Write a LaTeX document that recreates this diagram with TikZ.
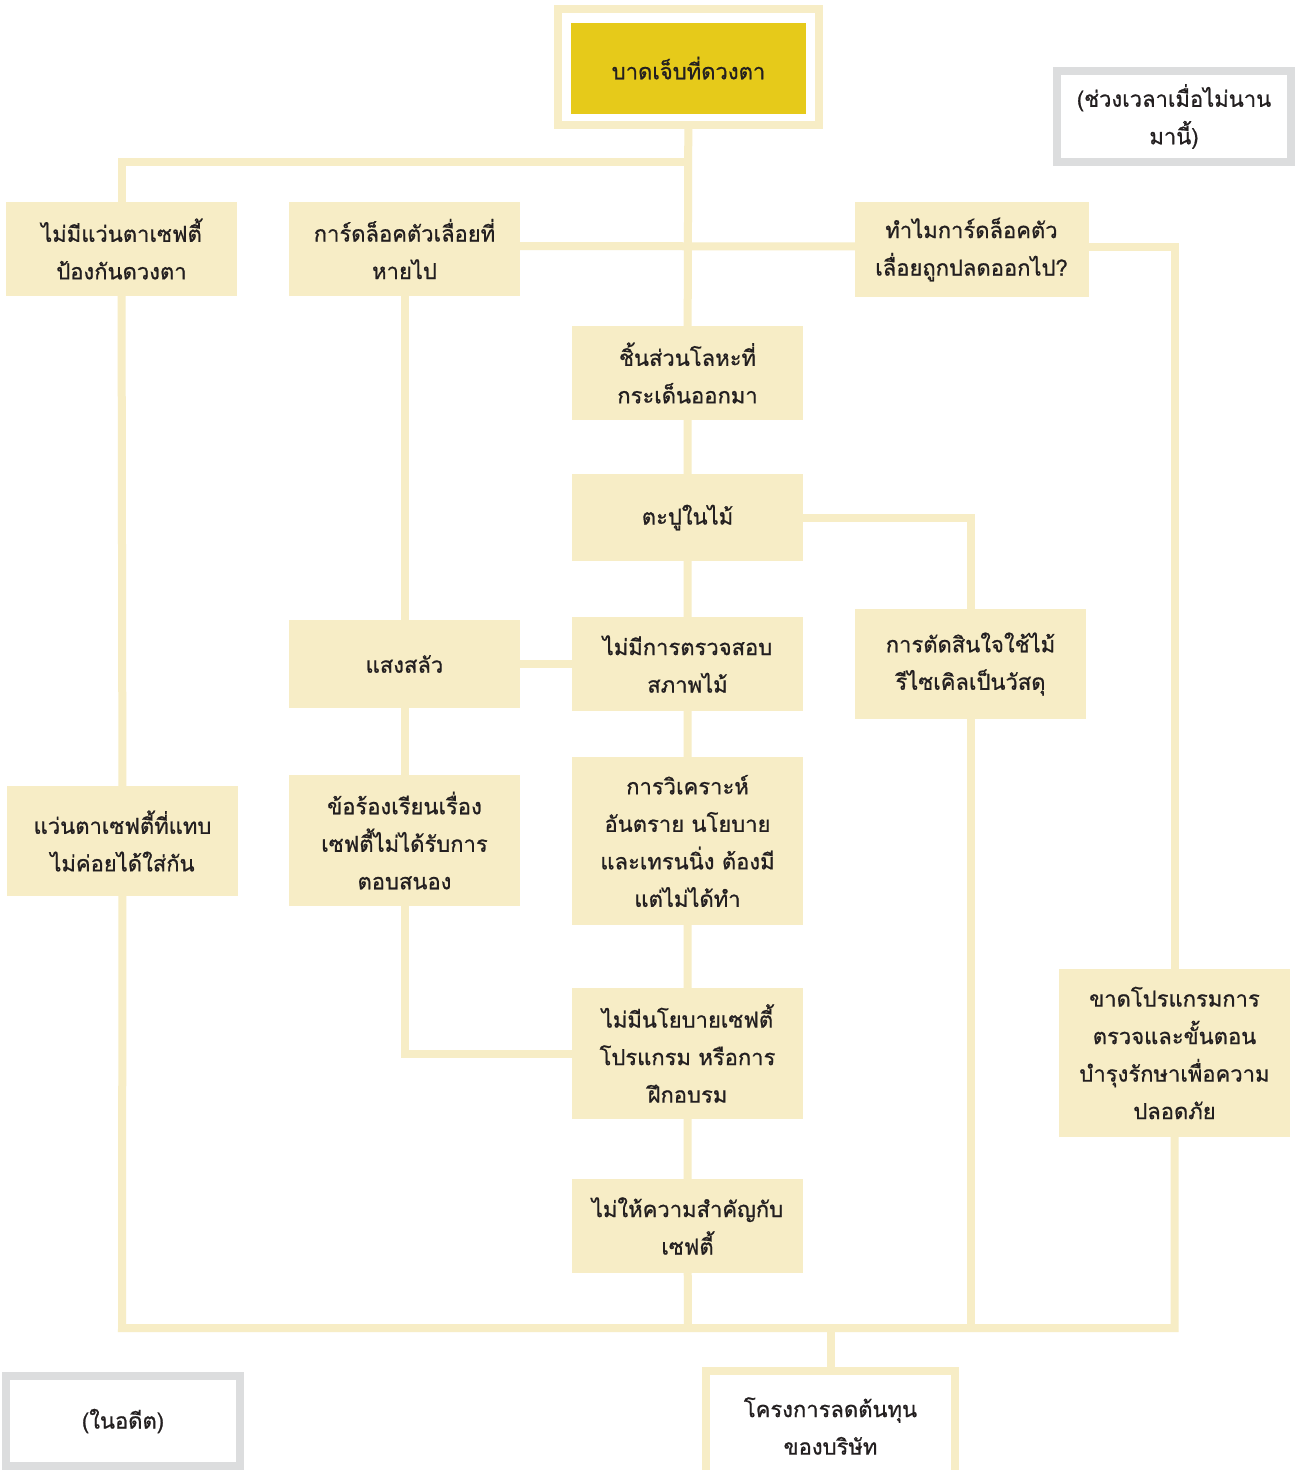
\documentclass[tikz,border=0pt]{standalone}
\usepackage{fontspec}
\newfontfamily\thaifont[Script=Thai,FakeBold=0.8]{Loma}
\usetikzlibrary{backgrounds}
\definecolor{cream}{HTML}{F7EDC6}
\definecolor{gold}{HTML}{E6CA1A}
\definecolor{frgray}{HTML}{DCDDDE}
\definecolor{ink}{HTML}{231F20}
\tikzset{
  txt/.style={font=\thaifont\fontsize{22}{37.5}\selectfont, text=ink, align=center},
  box/.style={txt, fill=cream, inner sep=0pt, minimum width=231pt},
  goldbox/.style={txt, fill=gold, inner sep=0pt, minimum width=235pt, minimum height=91pt},
  frame/.style={txt, draw=cream, line width=8pt, fill=white, inner sep=0pt},
  legend/.style={txt, draw=frgray, line width=8pt, fill=white, inner sep=0pt, minimum width=234pt},
  conn/.style={draw=cream, line width=8pt},
}
\begin{document}
\begin{tikzpicture}[x=1pt, y=-1pt]
\clip (0,0) rectangle (1295,1470);

% top
\node[frame, minimum width=261pt, minimum height=116pt] (topframe) at (688.5,67) {};
\node[goldbox] (top) at (688.5,68) {บาดเจ็บที่ดวงตา};

% legends
\node[legend, minimum height=91pt] (recent) at (1174,116.5) {(ช่วงเวลาเมื่อไม่นาน\\มานี้)};
\node[legend, minimum height=90pt] (past) at (123,1421) {(ในอดีต)};

% boxes
\node[box, minimum height=94pt] (A) at (121.5,249) {ไม่มีแว่นตาเซฟตี้\\ป้องกันดวงตา};
\node[box, minimum height=94pt] (B) at (404.5,249) {การ์ดล็อคตัวเลื่อยที่\\หายไป};
\node[box, minimum height=95pt, minimum width=234pt] (C) at (971.5,249.5) {ทำไมการ์ดล็อคตัว\\เลื่อยถูกปลดออกไป?};
\node[box, minimum height=94pt] (D) at (687.5,373) {ชิ้นส่วนโลหะที่\\กระเด็นออกมา};
\node[box, minimum height=87pt] (E) at (687.5,517.5) {ตะปูในไม้};
\node[box, minimum height=110pt] (F) at (970.5,664) {การตัดสินใจใช้ไม้\\รีไซเคิลเป็นวัสดุ};
\node[box, minimum height=88pt] (H) at (404.5,664) {แสงสลัว};
\node[box, minimum height=94pt] (I) at (687.5,664) {ไม่มีการตรวจสอบ\\สภาพไม้};
\node[box, minimum height=110pt] (G) at (122.5,841) {แว่นตาเซฟตี้ที่แทบ\\ไม่ค่อยได้ใส่กัน};
\node[box, minimum height=131pt] (J) at (404.5,840.5) {ข้อร้องเรียนเรื่อง\\เซฟตี้ไม่ได้รับการ\\ตอบสนอง};
\node[box, minimum height=168pt] (K) at (687.5,841) {การวิเคราะห์\\อันตราย นโยบาย\\และเทรนนิ่ง ต้องมี\\แต่ไม่ได้ทำ};
\node[box, minimum height=131pt] (L) at (687.5,1053.5) {ไม่มีนโยบายเซฟตี้\\โปรแกรม หรือการ\\ฝึกอบรม};
\node[box, minimum height=94pt] (M) at (687.5,1226) {ไม่ให้ความสำคัญกับ\\เซฟตี้};
\node[box, minimum height=168pt] (N) at (1174.5,1053) {ขาดโปรแกรมการ\\ตรวจและขั้นตอน\\บำรุงรักษาเพื่อความ\\ปลอดภัย};

% bottom result
\node[frame, minimum width=249pt, minimum height=110pt] (cost) at (830.5,1426) {โครงการลดต้นทุน\\ของบริษัท};

% junction coordinates
\coordinate (j1) at (688,162);
\coordinate (bl) at (122,1328);
\coordinate (bm) at (688,1328);
\coordinate (bf) at (970.5,1328);
\coordinate (bc) at (830.5,1328);
\coordinate (br) at (1174.5,1328);

\begin{pgfonlayer}{background}
\fill[white] (0,0) rectangle (1295,1470);
\draw[conn] (topframe) -- (D);
\draw[conn] (A) |- (j1);
\draw[conn] (A) -- (G) -- (bl) -- (br) -- (N);
\draw[conn] ([yshift=3pt]B.center) -- ([yshift=3pt]C.center);
\draw[conn] ([yshift=3pt]C.center) -| (N);
\draw[conn] (B) -- (H) -- (J);
\draw[conn] (J) |- (L);
\draw[conn] (H) -- (I);
\draw[conn] (D) -- (E) -- (I) -- (K) -- (L) -- (M) -- (bm);
\draw[conn] (E) -| (F);
\draw[conn] (F) -- (bf);
\draw[conn] (bc) -- (cost);
\end{pgfonlayer}
\end{tikzpicture}
\end{document}
